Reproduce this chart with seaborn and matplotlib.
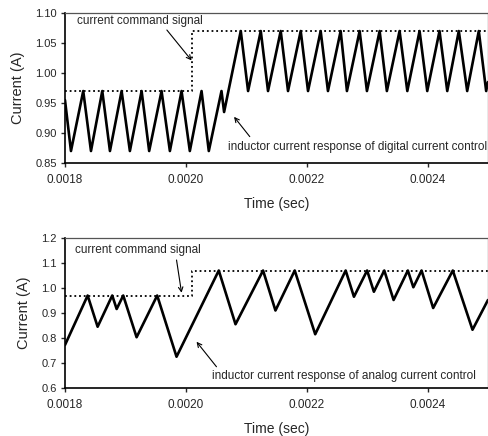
import matplotlib
matplotlib.use("Agg")
import matplotlib.pyplot as plt
from matplotlib.ticker import FormatStrFormatter
import seaborn as sns
import pandas as pd

# ---------------- data ----------------
# digital current control (top panel)
digital_t = [0.0018000, 0.0018099, 0.0018302, 0.0018430, 0.0018617, 0.0018744,
             0.0018937, 0.0019074, 0.0019268, 0.0019393, 0.0019598, 0.0019736,
             0.0019929, 0.0020066, 0.0020260, 0.0020380, 0.0020590, 0.0020633,
             0.0020909, 0.0021030, 0.0021240, 0.0021360, 0.0021570, 0.0021691,
             0.0021901, 0.0022022, 0.0022231, 0.0022352, 0.0022562, 0.0022666,
             0.0022876, 0.0022997, 0.0023207, 0.0023327, 0.0023537, 0.0023665,
             0.0023868, 0.0023995, 0.0024198, 0.0024326, 0.0024517, 0.0024656,
             0.0024848, 0.0024970, 0.0025000]
digital_i = [0.955, 0.87, 0.97, 0.87, 0.97, 0.87,
             0.97, 0.87, 0.97, 0.87, 0.97, 0.87,
             0.97, 0.87, 0.97, 0.87, 0.97, 0.935,
             1.07, 0.97, 1.07, 0.97, 1.07, 0.97,
             1.07, 0.97, 1.07, 0.97, 1.07, 0.97,
             1.07, 0.97, 1.07, 0.97, 1.07, 0.97,
             1.07, 0.97, 1.07, 0.97, 1.07, 0.97,
             1.07, 0.97, 0.985]

# analog current control (bottom panel)
analog_t = [0.0018000, 0.0018375, 0.0018540, 0.0018782, 0.0018855, 0.0018964,
            0.0019185, 0.0019526, 0.0019846, 0.0020545, 0.0020822, 0.0021278,
            0.0021483, 0.0021802, 0.0022141, 0.0022645, 0.0022782, 0.0023000,
            0.0023112, 0.0023284, 0.0023438, 0.0023674, 0.0023765, 0.0023901,
            0.0024093, 0.0024418, 0.0024744, 0.0025000]
analog_i = [0.772, 0.97, 0.845, 0.97, 0.916, 0.97,
            0.803, 0.97, 0.725, 1.07, 0.855, 1.07,
            0.910, 1.07, 0.815, 1.07, 0.965, 1.07,
            0.985, 1.07, 0.952, 1.07, 1.003, 1.07,
            0.920, 1.07, 0.833, 0.952]

# current command signal (step)
command_t = [0.0018, 0.00201, 0.0025]
command_i = [0.97, 1.07, 1.07]

x_ticks = [0.0018, 0.0020, 0.0022, 0.0024]
top_yticks = [0.85, 0.90, 0.95, 1.00, 1.05, 1.10]
bot_yticks = [0.6, 0.7, 0.8, 0.9, 1.0, 1.1, 1.2]

# ---------------- style ----------------
sns.set_style("ticks")
plt.rcParams["font.family"] = ["Liberation Sans", "DejaVu Sans"]

fig = plt.figure(figsize=(4.89, 4.36), dpi=100)
ax_top = fig.add_axes([0.1329, 0.6261, 0.8650, 0.3440])
ax_bot = fig.add_axes([0.1329, 0.1101, 0.8650, 0.3440])

dig_df = pd.DataFrame({"t": digital_t, "i": digital_i})
ana_df = pd.DataFrame({"t": analog_t, "i": analog_i})
cmd_df = pd.DataFrame({"t": command_t, "i": command_i})


def draw_panel(ax, df, ylim, yticks, yfmt, cmd_label_xy, cmd_arrow, resp_label, resp_xy, resp_arrow):
    sns.lineplot(data=cmd_df, x="t", y="i", ax=ax, estimator=None, sort=False,
                 drawstyle="steps-post", color="black", lw=1.3,
                 linestyle=(0, (1, 1.6)))
    sns.lineplot(data=df, x="t", y="i", ax=ax, estimator=None, sort=False,
                 color="black", lw=1.9)
    ax.set_xlim(0.0018, 0.0025)
    ax.set_ylim(*ylim)
    ax.set_xticks(x_ticks)
    ax.set_yticks(yticks)
    ax.xaxis.set_major_formatter(FormatStrFormatter("%.4f"))
    ax.yaxis.set_major_formatter(FormatStrFormatter(yfmt))
    ax.tick_params(axis="x", labelsize=8.5, length=3, width=1, pad=5, direction="out")
    ax.tick_params(axis="y", labelsize=8, length=3, width=1, pad=3, direction="out")
    ax.set_xlabel("Time (sec)", fontsize=10, labelpad=8)
    ax.set_ylabel("Current (A)", fontsize=10.5, labelpad=7)
    for side in ("left", "bottom"):
        ax.spines[side].set_color("black")
        ax.spines[side].set_linewidth(1.2)
    for side in ("top", "right"):
        ax.spines[side].set_visible(True)
        ax.spines[side].set_color("#555555")
        ax.spines[side].set_linewidth(0.9)
    ax.text(cmd_label_xy[0], cmd_label_xy[1], "current command signal",
            fontsize=8.5, ha="left", va="center")
    ax.annotate("", xy=cmd_arrow[1], xytext=cmd_arrow[0],
                arrowprops=dict(arrowstyle="->", lw=0.8, color="black",
                                shrinkA=0, shrinkB=0, mutation_scale=8))
    ax.text(resp_xy[0], resp_xy[1], resp_label, fontsize=8.5, ha="left", va="center")
    ax.annotate("", xy=resp_arrow[1], xytext=resp_arrow[0],
                arrowprops=dict(arrowstyle="->", lw=0.8, color="black",
                                shrinkA=0, shrinkB=0, mutation_scale=8))


draw_panel(ax_top, dig_df, (0.85, 1.10), top_yticks, "%.2f",
           (0.0018198, 1.0867),
           ((0.0019686, 1.0717), (0.0020095, 1.021)),
           "inductor current response of digital current control",
           (0.0020694, 0.8772),
           ((0.0021058, 0.894), (0.0020798, 0.927)))

draw_panel(ax_bot, ana_df, (0.6, 1.2), bot_yticks, "%.1f",
           (0.0018165, 1.152),
           ((0.0019846, 1.112), (0.0019929, 0.981)),
           "inductor current response of analog current control",
           (0.0020425, 0.648),
           ((0.0020507, 0.685), (0.0020177, 0.785)))

fig.savefig("out.png", dpi=100)
